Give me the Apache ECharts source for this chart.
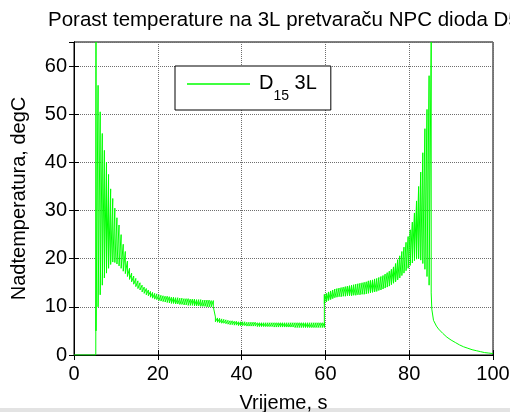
<!DOCTYPE html>
<html>
<head>
<meta charset="utf-8">
<title>Porast temperature</title>
<script src="https://cdn.jsdelivr.net/npm/echarts@6/dist/echarts.min.js"></script>
<style>
  html, body { margin: 0; padding: 0; background: #fff; }
  #chart { width: 510px; height: 412px; }
</style>
</head>
<body>
<div id="chart"></div>
<script>
// pocetak - dioda jos ne vodi
const startTime = [0, 5.2]
const startTemp = [0, 0]

// prvi dio: vrhovi (hi) i dolovi (lo) oscilacije
const seg1Time = [5.25, 5.75, 6.25, 6.75, 7.25, 7.75, 8.25, 8.75, 9.25, 9.75, 10.25, 10.75, 11.25, 11.75, 12.25, 12.75, 13.25, 13.75, 14.25, 14.75, 15.25, 15.75, 16.25, 16.75, 17.25, 17.75, 18.25, 18.75, 19.25, 19.75, 20.25, 20.75, 21.25, 21.75, 22.25, 22.75, 23.25, 23.75, 24.25, 24.75, 25.25, 25.75, 26.25, 26.75, 27.25, 27.75, 28.25, 28.75, 29.25, 29.75, 30.25, 30.75, 31.25, 31.75, 32.25, 32.75, 33.25]
const seg1Hi = [65, 56, 50.5, 46, 42.5, 40, 37.5, 34.5, 32.5, 30.5, 28.5, 27, 25, 23, 21.5, 19.5, 18, 17, 16.4, 15.9, 15.4, 15.0, 14.5, 14.1, 13.8, 13.5, 13.2, 13.0, 12.8, 12.7, 12.5, 12.4, 12.3, 12.2, 12.2, 12.1, 12.0, 12.0, 11.9, 11.9, 11.8, 11.8, 11.7, 11.7, 11.7, 11.6, 11.6, 11.6, 11.5, 11.5, 11.5, 11.4, 11.4, 11.4, 11.4, 11.3, 11.3]
const seg1Lo = [5, 10, 12.5, 14.5, 16, 17, 18, 18.8, 19.3, 19.2, 18.9, 18.5, 18, 17.4, 16.9, 16.3, 15.7, 15.2, 14.7, 14.2, 13.8, 13.5, 13.1, 12.8, 12.5, 12.3, 12.0, 11.8, 11.6, 11.5, 11.3, 11.2, 11.1, 11.0, 10.9, 10.8, 10.7, 10.7, 10.6, 10.6, 10.5, 10.5, 10.4, 10.4, 10.3, 10.3, 10.3, 10.2, 10.2, 10.2, 10.1, 10.1, 10.1, 10.0, 10.0, 10.0, 10.0]

// drugi dio: manje opterecenje
const seg2Time = [33.75, 34.25, 34.75, 35.25, 35.75, 36.25, 36.75, 37.25, 37.75, 38.25, 38.75, 39.25, 39.75, 40.25, 40.75, 41.25, 41.75, 42.25, 42.75, 43.25, 43.75, 44.25, 44.75, 45.25, 45.75, 46.25, 46.75, 47.25, 47.75, 48.25, 48.75, 49.25, 49.75, 50.25, 50.75, 51.25, 51.75, 52.25, 52.75, 53.25, 53.75, 54.25, 54.75, 55.25, 55.75, 56.25, 56.75, 57.25, 57.75, 58.25, 58.75, 59.25, 59.75]
const seg2Hi = [7.9, 7.7, 7.6, 7.5, 7.4, 7.3, 7.2, 7.1, 7.1, 7.0, 7.0, 6.9, 6.9, 6.9, 6.9, 6.8, 6.8, 6.8, 6.8, 6.8, 6.7, 6.7, 6.7, 6.7, 6.7, 6.7, 6.7, 6.7, 6.7, 6.7, 6.7, 6.7, 6.7, 6.7, 6.7, 6.7, 6.7, 6.7, 6.7, 6.7, 6.7, 6.7, 6.7, 6.7, 6.7, 6.7, 6.7, 6.7, 6.7, 6.7, 6.7, 6.7, 6.7]
const seg2Lo = [6.9, 6.8, 6.7, 6.6, 6.6, 6.5, 6.4, 6.3, 6.3, 6.2, 6.2, 6.1, 6.1, 6.1, 6.1, 6.0, 6.0, 6.0, 6.0, 6.0, 5.9, 5.9, 5.9, 5.9, 5.9, 5.9, 5.9, 5.9, 5.8, 5.8, 5.8, 5.8, 5.8, 5.8, 5.8, 5.8, 5.8, 5.8, 5.7, 5.7, 5.7, 5.7, 5.7, 5.7, 5.7, 5.7, 5.7, 5.7, 5.7, 5.7, 5.7, 5.7, 5.7]

// treci dio: rast prema drugom vrhu
const seg3Time = [59.75, 60.25, 60.75, 61.25, 61.75, 62.25, 62.75, 63.25, 63.75, 64.25, 64.75, 65.25, 65.75, 66.25, 66.75, 67.25, 67.75, 68.25, 68.75, 69.25, 69.75, 70.25, 70.75, 71.25, 71.75, 72.25, 72.75, 73.25, 73.75, 74.25, 74.75, 75.25, 75.75, 76.25, 76.75, 77.25, 77.75, 78.25, 78.75, 79.25, 79.75, 80.25, 80.75, 81.25, 81.75, 82.25, 82.75, 83.25, 83.75, 84.25, 84.75, 85.25]
const seg3Hi = [12.6, 12.8, 13.1, 13.3, 13.5, 13.7, 13.8, 13.9, 14.0, 14.1, 14.2, 14.3, 14.4, 14.5, 14.6, 14.7, 14.8, 14.9, 15.0, 15.1, 15.2, 15.4, 15.5, 15.6, 15.8, 15.9, 16.1, 16.3, 16.5, 16.8, 17.1, 17.4, 17.8, 18.3, 19.0, 19.8, 20.6, 21.5, 22.4, 23.4, 24.6, 26.0, 27.6, 29.5, 32.0, 35, 38, 42, 47, 51, 58, 65]
const seg3Lo = [10.7, 11.0, 11.3, 11.5, 11.7, 11.9, 12.0, 12.1, 12.1, 12.2, 12.2, 12.3, 12.3, 12.3, 12.4, 12.4, 12.5, 12.5, 12.6, 12.6, 12.7, 12.8, 12.9, 13.0, 13.1, 13.2, 13.4, 13.5, 13.7, 13.9, 14.1, 14.3, 14.6, 14.9, 15.2, 15.6, 16.0, 16.5, 17.0, 17.5, 18.0, 18.6, 19.1, 19.6, 19.9, 20.0, 19.7, 19.0, 17.8, 16.3, 14.5, 12.9]

// hladjenje na kraju
const tailTime = [85.4, 85.8, 86.5, 87, 88, 89, 90, 91, 92, 93, 94, 95, 96, 97, 98, 99, 100]
const tailTemp = [9.5, 7.2, 6.0, 5.4, 4.5, 3.7, 3.1, 2.6, 2.1, 1.7, 1.4, 1.1, 0.9, 0.7, 0.5, 0.4, 0.3]

const xTicks = [0, 20, 40, 60, 80, 100]
const yTicks = [0, 10, 20, 30, 40, 50, 60]

const FONT = "'Liberation Sans', Arial, sans-serif"

// slaganje tocaka: vrh pa dol za svaki trenutak
const points = []
startTime.forEach((t, i) => points.push([t, startTemp[i]]))
const addSeg = (time, hi, lo) => {
  time.forEach((t, i) => {
    points.push([t, hi[i]])
    points.push([t, lo[i]])
  })
}
addSeg(seg1Time, seg1Hi, seg1Lo)
addSeg(seg2Time, seg2Hi, seg2Lo)
addSeg(seg3Time, seg3Hi, seg3Lo)
tailTime.forEach((t, i) => points.push([t, tailTemp[i]]))

const chart = echarts.init(document.getElementById('chart'), null, { renderer: 'canvas' })

const xCommon = {
  type: 'value',
  min: xTicks[0],
  max: xTicks[xTicks.length - 1],
  interval: 20
}
const yCommon = {
  type: 'value',
  min: yTicks[0],
  max: 65,
  interval: 10
}

const gridLine = { show: true, lineStyle: { color: '#6e6e6e', type: 'dotted', width: 1 } }
const tickIn = { show: true, inside: true, length: 5, lineStyle: { color: '#000' } }
const blackLine = { show: true, lineStyle: { color: '#000', width: 1 } }

const option = {
  animation: false,
  backgroundColor: '#fff',
  title: {
    text: 'Porast temperature na 3L pretvaraču NPC dioda D5',
    left: 43,
    top: 5,
    textStyle: {
      fontFamily: FONT,
      fontSize: 20.5,
      fontWeight: 'normal',
      color: '#000'
    }
  },
  grid: {
    left: 74,
    right: 17,
    top: 42,
    bottom: 57,
    outerBoundsMode: 'none',
    containLabel: false,
    show: true,
    borderColor: '#000',
    borderWidth: 1,
    backgroundColor: '#fff'
  },
  legend: {
    left: 175,
    top: 66,
    orient: 'vertical',
    padding: [7, 14, 7, 12],
    borderColor: '#000',
    borderWidth: 1,
    backgroundColor: '#fff',
    icon: 'rect',
    itemWidth: 63,
    itemHeight: 1.5,
    itemGap: 0,
    formatter: () => '{n|D}{s|15}{n| 3L}',
    textStyle: {
      color: '#000',
      padding: [0, 0, 0, 4],
      rich: {
        n: { fontFamily: FONT, fontSize: 20, lineHeight: 22, verticalAlign: 'top', color: '#000' },
        s: { fontFamily: FONT, fontSize: 14, lineHeight: 14, verticalAlign: 'top', padding: [16, 0, 0, 0], color: '#000' }
      }
    },
    data: ['D15 3L']
  },
  xAxis: [
    Object.assign({}, xCommon, {
      position: 'bottom',
      name: 'Vrijeme, s',
      nameLocation: 'middle',
      nameGap: 38,
      nameTextStyle: { fontFamily: FONT, fontSize: 20, color: '#000' },
      axisLine: blackLine,
      axisTick: tickIn,
      axisLabel: { fontFamily: FONT, fontSize: 20, color: '#000', margin: 9 },
      splitLine: gridLine
    }),
    Object.assign({}, xCommon, {
      position: 'top',
      axisLine: blackLine,
      axisTick: tickIn,
      axisLabel: { show: false },
      splitLine: { show: false }
    })
  ],
  yAxis: [
    Object.assign({}, yCommon, {
      position: 'left',
      name: 'Nadtemperatura, degC',
      nameLocation: 'middle',
      nameGap: 45,
      nameTextStyle: { fontFamily: FONT, fontSize: 20, color: '#000' },
      axisLine: blackLine,
      axisTick: tickIn,
      axisLabel: { fontFamily: FONT, fontSize: 20, color: '#000', margin: 7, showMaxLabel: false },
      splitLine: gridLine
    }),
    Object.assign({}, yCommon, {
      position: 'right',
      axisLine: blackLine,
      axisTick: tickIn,
      axisLabel: { show: false },
      splitLine: { show: false }
    })
  ],
  series: [
    {
      name: 'D15 3L',
      type: 'line',
      xAxisIndex: 0,
      yAxisIndex: 0,
      data: points,
      symbol: 'none',
      lineStyle: { color: '#00ff00', width: 1 },
      itemStyle: { color: '#00ff00' }
    }
  ],
  graphic: [
    {
      type: 'rect',
      left: 0,
      top: 408,
      shape: { width: 510, height: 4 },
      style: { fill: '#e3e3e3' },
      silent: true
    }
  ]
}

chart.setOption(option)
</script>
</body>
</html>
